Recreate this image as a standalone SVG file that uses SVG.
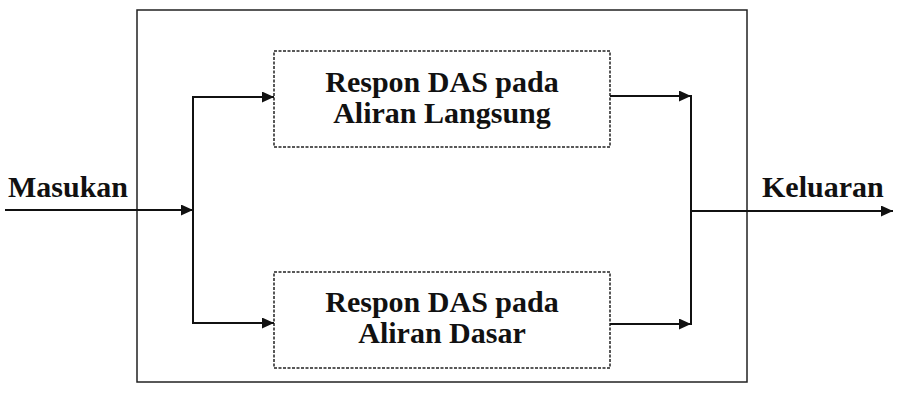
<svg xmlns="http://www.w3.org/2000/svg" width="897" height="414" viewBox="0 0 897 414">
  <style>
    .lbl { font-family: "Liberation Serif", "Times New Roman", serif; font-weight: bold; font-size: 30px; fill: #111; }
    .box { fill: none; stroke: #222; stroke-width: 1.5; stroke-dasharray: 3 1.5; }
    .outer { fill: none; stroke: #222; stroke-width: 1.5; }
    .ln { fill: none; stroke: #111; stroke-width: 2; }
  </style>
  <defs>
    <marker id="arr" viewBox="0 0 12 11" refX="12" refY="5.5" markerWidth="12" markerHeight="11" markerUnits="userSpaceOnUse" orient="auto">
      <path d="M0,0 L12,5.5 L0,11 Z" fill="#111"/>
    </marker>
  </defs>
  <rect width="897" height="414" fill="#fff"/>
  <g id="system">
    <rect class="outer" x="137" y="10" width="610" height="372"/>
  </g>
  <g id="direct">
    <rect class="box" x="274" y="51" width="336" height="96"/>
    <text class="lbl" x="442" y="92" text-anchor="middle">Respon DAS pada</text>
    <text class="lbl" x="442" y="123" text-anchor="middle">Aliran Langsung</text>
  </g>
  <g id="base">
    <rect class="box" x="274" y="272" width="336" height="96"/>
    <text class="lbl" x="442" y="312" text-anchor="middle">Respon DAS pada</text>
    <text class="lbl" x="442" y="343" text-anchor="middle">Aliran Dasar</text>
  </g>
  <g id="input">
    <text class="lbl" x="8" y="197">Masukan</text>
  </g>
  <g id="output">
    <text class="lbl" x="762" y="197">Keluaran</text>
  </g>
  <g id="connectors">
    <line class="ln" x1="5" y1="210" x2="193" y2="210" marker-end="url(#arr)"/>
    <line class="ln" x1="193" y1="96" x2="193" y2="324"/>
    <line class="ln" x1="192" y1="97" x2="274" y2="97" marker-end="url(#arr)"/>
    <line class="ln" x1="192" y1="323" x2="274" y2="323" marker-end="url(#arr)"/>
    <line class="ln" x1="610" y1="96" x2="691" y2="96" marker-end="url(#arr)"/>
    <line class="ln" x1="610" y1="324" x2="691" y2="324" marker-end="url(#arr)"/>
    <line class="ln" x1="691" y1="95" x2="691" y2="325"/>
    <line class="ln" x1="691" y1="211" x2="893" y2="211" marker-end="url(#arr)"/>
  </g>
</svg>
